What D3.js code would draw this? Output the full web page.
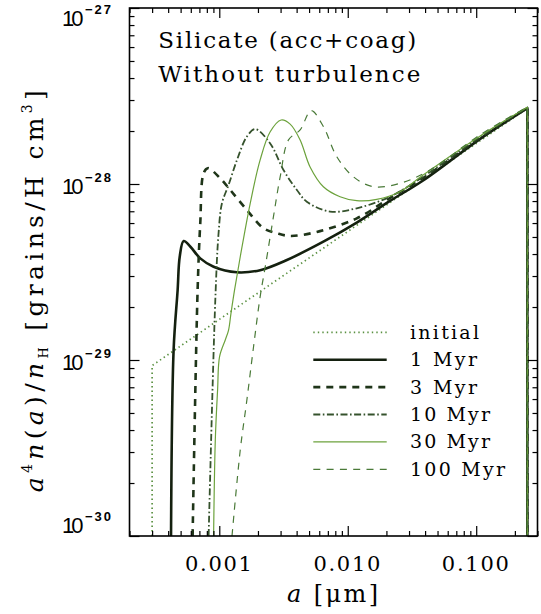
<!DOCTYPE html>
<html><head><meta charset="utf-8">
<script src="https://cdn.jsdelivr.net/npm/d3@7"></script>
<style>body{margin:0;background:#fff}svg{display:block}</style>
</head><body><svg id="c" width="541" height="614"></svg>
<script>
// ---------- data ----------
const labels = ["initial", "1 Myr", "3 Myr", "10 Myr", "30 Myr", "100 Myr"];

const a_initial = [3e-4, 3e-4, 1e-3, 1e-2, 0.1, 0.25];
const v_initial = [1e-30, 9.3e-30, 1.70e-29, 5.37e-29, 1.70e-28, 2.69e-28];

const a_1Myr = [4.21e-4, 4.41e-4, 4.74e-4, 4.92e-4, 5.28e-4, 5.96e-4, 7.11e-4, 9.03e-4, 1.37e-3, 2.08e-3, 3.36e-3, 6.46e-3, 1.175e-2, 2.13e-2, 3.86e-2, 0.1067, 0.25];
const v_1Myr = [1e-30, 1.14e-29, 2.50e-29, 3.86e-29, 4.74e-29, 4.40e-29, 3.78e-29, 3.39e-29, 3.15e-29, 3.24e-29, 3.70e-29, 4.70e-29, 6.03e-29, 8.01e-29, 1.047e-28, 1.80e-28, 2.70e-28];

const a_3Myr = [6.20e-4, 6.78e-4, 7.11e-4, 7.55e-4, 8.14e-4, 1.018e-3, 1.218e-3, 1.64e-3, 2.21e-3, 2.81e-3, 3.56e-3, 5.74e-3, 1.175e-2, 2.13e-2, 3.86e-2, 0.1067, 0.25];
const v_3Myr = [1e-30, 2.50e-29, 5.98e-29, 1.15e-28, 1.23e-28, 1.077e-28, 9.24e-29, 7.12e-29, 5.60e-29, 5.25e-29, 5.07e-29, 5.34e-29, 6.38e-29, 8.32e-29, 1.082e-28, 1.82e-28, 2.71e-28];

const a_10Myr = [8.26e-4, 9.31e-4, 9.87e-4, 1.049e-3, 1.181e-3, 1.374e-3, 1.64e-3, 1.905e-3, 2.49e-3, 3.16e-3, 4.02e-3, 4.80e-3, 7.28e-3, 1.175e-2, 2.13e-2, 3.86e-2, 0.1067, 0.25];
const v_10Myr = [1e-30, 2.19e-29, 5.25e-29, 7.77e-29, 9.87e-29, 1.37e-28, 1.86e-28, 2.05e-28, 1.70e-28, 1.20e-28, 9.24e-29, 7.93e-29, 6.97e-29, 7.28e-29, 8.47e-29, 1.10e-28, 1.85e-28, 2.72e-28];

const a_30Myr = [9.03e-4, 9.31e-4, 9.70e-4, 1.005e-3, 1.113e-3, 1.181e-3, 1.233e-3, 1.315e-3, 1.456e-3, 1.741e-3, 2.08e-3, 2.49e-3, 3.03e-3, 3.56e-3, 4.26e-3, 5.09e-3, 6.46e-3, 8.71e-3, 1.175e-2, 1.68e-2, 2.55e-2, 3.86e-2, 0.1067, 0.25];
const v_30Myr = [1e-30, 3.51e-30, 6.76e-30, 1.045e-29, 1.30e-29, 1.48e-29, 1.84e-29, 2.50e-29, 3.86e-29, 7.77e-29, 1.37e-28, 1.98e-28, 2.31e-28, 2.19e-28, 1.78e-28, 1.25e-28, 9.65e-29, 8.47e-29, 8.04e-29, 8.18e-29, 9.04e-29, 1.125e-28, 1.87e-28, 2.73e-28];

const a_100Myr = [1.256e-3, 1.456e-3, 1.64e-3, 1.848e-3, 2.08e-3, 2.28e-3, 2.64e-3, 2.98e-3, 3.46e-3, 4.26e-3, 5.19e-3, 6.46e-3, 8.21e-3, 1.105e-2, 1.58e-2, 2.55e-2, 4.36e-2, 0.1067, 0.25];
const v_100Myr = [1e-30, 3.08e-30, 5.93e-30, 1.19e-29, 2.29e-29, 3.39e-29, 6.52e-29, 1.10e-28, 1.78e-28, 2.03e-28, 2.61e-28, 2.12e-28, 1.43e-28, 1.10e-28, 9.65e-29, 1.009e-28, 1.20e-28, 1.90e-28, 2.74e-28];

const xTickValues = [0.001, 0.01, 0.1];
const xTickLabels = ["0.001", "0.010", "0.100"];
const yTickValues = [1e-30, 1e-29, 1e-28, 1e-27];
const yTickExponents = ["\u221230", "\u221229", "\u221228", "\u221227"];
const titleLines = ["Silicate (acc+coag)", "Without turbulence"];

// ---------- layout ----------
const svg = d3.select("#c");
const L = 129.5, R = 537.5, T = 8, B = 536;
const x = d3.scaleLog().domain([2e-4, 0.3]).range([L, R]);
const y = d3.scaleLog().domain([1e-30, 1e-27]).range([B, T]);
const serif = "'DejaVu Serif', 'Liberation Serif', serif";
const sans = "'Liberation Sans', Arial, sans-serif";

function fit(sel, w) {
  const n = sel.node();
  const len = n.getComputedTextLength();
  const chars = n.textContent.length;
  if (chars > 1) sel.attr("letter-spacing", (w - len) / (chars - 1));
}

svg.append("defs").append("clipPath").attr("id", "clip")
  .append("rect").attr("x", L).attr("y", T).attr("width", R - L).attr("height", B - T);

// ---------- series ----------
const styles = [
  {a: a_initial, v: v_initial, color: "#5b9142", w: 1.7, dash: "1.4,3.1", smooth: false},
  {a: a_1Myr, v: v_1Myr, color: "#14200f", w: 2.6, dash: null, smooth: true},
  {a: a_3Myr, v: v_3Myr, color: "#1f3519", w: 2.6, dash: "7,6", smooth: true},
  {a: a_10Myr, v: v_10Myr, color: "#35522c", w: 1.8, dash: "7,2.5,1.6,2.5", smooth: true},
  {a: a_30Myr, v: v_30Myr, color: "#6ca23c", w: 1.2, dash: null, smooth: true},
  {a: a_100Myr, v: v_100Myr, color: "#4a7a38", w: 1.2, dash: "7,6.3", smooth: true}
];

const plot = svg.append("g").attr("clip-path", "url(#clip)");
const lineSmooth = d3.line().x(d => x(d[0])).y(d => y(d[1])).curve(d3.curveCatmullRom.alpha(0.5));
const lineLin = d3.line().x(d => x(d[0])).y(d => y(d[1]));

styles.forEach(s => {
  const pts = s.a.map((a, i) => [a, s.v[i]]);
  const last = pts[pts.length - 1];
  const d = (s.smooth ? lineSmooth(pts) : lineLin(pts)) + `L${x(last[0])},${B + 10}`;
  plot.append("path").attr("d", d).attr("fill", "none")
    .attr("stroke", s.color).attr("stroke-width", s.w)
    .attr("stroke-dasharray", s.dash).attr("stroke-linejoin", "round");
});

// ---------- axes ----------
const isMajor = v => Math.abs(Math.log10(v) - Math.round(Math.log10(v))) < 1e-6;
const xMinor = x.ticks().filter(v => !isMajor(v));
const yMinor = y.ticks().filter(v => !isMajor(v));
const yMajor = yTickValues;

function styleAxis(g) {
  g.select(".domain").remove();
  g.selectAll(".tick line").attr("stroke", "#000").attr("stroke-width", 1.2);
  g.selectAll(".tick text").remove();
}
[[d3.axisTop, B], [d3.axisBottom, T]].forEach(([ax, pos]) => {
  svg.append("g").attr("transform", `translate(0,${pos})`)
    .call(ax(x).tickValues(xTickValues).tickSize(10).tickFormat("")).call(styleAxis);
  svg.append("g").attr("transform", `translate(0,${pos})`)
    .call(ax(x).tickValues(xMinor).tickSize(5).tickFormat("")).call(styleAxis);
});
[[d3.axisRight, L], [d3.axisLeft, R]].forEach(([ax, pos]) => {
  svg.append("g").attr("transform", `translate(${pos},0)`)
    .call(ax(y).tickValues(yMajor).tickSize(10).tickFormat("")).call(styleAxis);
  svg.append("g").attr("transform", `translate(${pos},0)`)
    .call(ax(y).tickValues(yMinor).tickSize(5).tickFormat("")).call(styleAxis);
});

svg.append("rect").attr("x", L).attr("y", T).attr("width", R - L).attr("height", B - T)
  .attr("fill", "none").attr("stroke", "#000").attr("stroke-width", 1.6);

// x tick labels
xTickValues.forEach((v, i) => {
  const t = svg.append("text").attr("x", x(v)).attr("y", 571)
    .attr("text-anchor", "middle").attr("font-family", serif).attr("font-size", 21)
    .text(xTickLabels[i]);
  fit(t, 67);
});

// y tick labels
yTickValues.forEach((v, i) => {
  const off = i === yTickValues.length - 1 ? 18 : (i === 0 ? -3 : 10);
  const by = y(v) + off;
  const b = svg.append("text").attr("x", 62).attr("y", by)
    .attr("font-family", sans).attr("font-size", 22).text("10");
  fit(b, 21.5);
  const e = svg.append("text").attr("x", 85).attr("y", by - 12)
    .attr("font-family", sans).attr("font-size", 13).attr("font-weight", "bold")
    .text(yTickExponents[i]);
  fit(e, 26);
});

// x label
const xl = svg.append("text").attr("x", 333.7).attr("y", 602).attr("text-anchor", "middle")
  .attr("font-family", serif).attr("font-size", 24);
xl.append("tspan").attr("font-style", "italic").text("a");
xl.append("tspan").text(" [\u03bcm]");
fit(xl, 91);

// y label
const yl = svg.append("text").attr("transform", "translate(43,289) rotate(-90)")
  .attr("text-anchor", "middle").attr("font-family", serif).attr("font-size", 25);
yl.append("tspan").attr("font-style", "italic").text("a");
yl.append("tspan").attr("font-size", 14).attr("dy", -11).text("4");
yl.append("tspan").attr("font-style", "italic").attr("dy", 11).text("n");
yl.append("tspan").text("(");
yl.append("tspan").attr("font-style", "italic").text("a");
yl.append("tspan").text(")/");
yl.append("tspan").attr("font-style", "italic").text("n");
yl.append("tspan").attr("font-size", 13).attr("dy", 5).text("H");
yl.append("tspan").attr("dy", -5).text(" [grains/H cm");
yl.append("tspan").attr("font-size", 14).attr("dy", -11).text("3");
yl.append("tspan").attr("dy", 11).text("]");
fit(yl, 402);

// title
titleLines.forEach((t, i) => {
  const tt = svg.append("text").attr("x", 158.3).attr("y", 48.3 + i * 33.4)
    .attr("font-family", serif).attr("font-size", 23).text(t);
  fit(tt, i === 0 ? 258 : 262);
});

// legend
styles.forEach((s, i) => {
  const ly = 332.3 + i * 27.4;
  svg.append("line").attr("x1", 313.3).attr("x2", 386.7).attr("y1", ly).attr("y2", ly)
    .attr("stroke", s.color).attr("stroke-width", s.w).attr("stroke-dasharray", s.dash);
  const lt = svg.append("text").attr("x", 410).attr("y", ly + 6.5)
    .attr("font-family", serif).attr("font-size", 19).text(labels[i]);
  fit(lt, [69, 67, 67, 80, 80, 95][i]);
});
</script>
</body></html>
